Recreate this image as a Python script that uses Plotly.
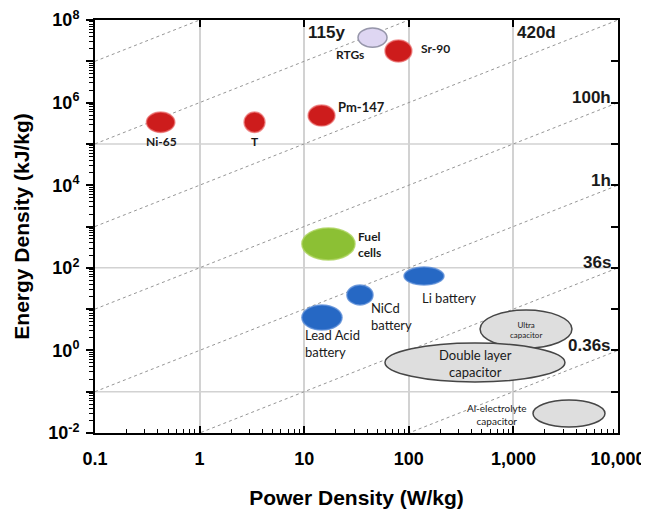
import math
import plotly.graph_objects as go

# ---------------- data ----------------
tech_names = ["Ni-65", "T", "Pm-147", "RTGs", "Sr-90", "Fuel cells",
              "Lead Acid battery", "NiCd battery", "Li battery",
              "Ultra capacitor", "Double layer capacitor", "Al-electrolyte capacitor"]
power_min = [0.31, 2.66, 10.9, 32.7, 59.2, 9.5, 9.5, 25.6, 90, 480, 59.2, 1540]
power_max = [0.58, 4.22, 19.7, 61.9, 107, 30.6, 23, 45.5, 217, 3630, 3110, 7510]
energy_min = [1.9e5, 1.9e5, 2.7e5, 2.2e7, 9.6e6, 155, 3.1, 12.6, 38.4, 1.14, 0.172, 0.014]
energy_max = [5.9e5, 5.9e5, 8.7e5, 6.4e7, 3.3e7, 920, 12.6, 38.4, 104, 9.5, 1.51, 0.063]

# constant discharge-time lines (E/P in axis units)
time_consts = [1e-4, 1e-2, 1, 1e2, 1e4, 1e6, 1e8]
time_labels = ["0.36s", "36s", "1h", "100h", "420d", "115y", ""]

x_ticks = [0.1, 1, 10, 100, 1000, 10000]
x_tick_text = ["0.1", "1", "10", "100", "1,000", "10,000"]
y_exponents = list(range(-2, 9))
h_grid = [1e-1, 1e2, 1e5]

# ---------------- styles ----------------
RED = dict(fill="rgb(205,28,28)", line="rgba(235,110,110,0.7)")
LAV = dict(fill="rgb(222,214,242)", line="rgb(150,150,170)")
GRN = dict(fill="rgb(140,192,52)", line="rgba(170,210,90,0.8)")
BLU = dict(fill="rgb(38,104,196)", line="rgba(90,140,215,0.8)")
GRY = dict(fill="rgb(222,222,222)", line="rgb(70,70,70)")
tech_style = [RED, RED, RED, LAV, RED, GRN, BLU, BLU, BLU, GRY, GRY, GRY]

# label positions (P, E), anchor, size, weight
label_specs = [
    ("Ni-65", 0.43, 1.17e5, "center", 12, "bold"),
    ("T", 3.39, 1.17e5, "center", 12, "bold"),
    ("Pm-147", 20.1, 7.8e5, "left", 13, "bold"),
    ("RTGs", 27.4, 1.5e7, "center", 12, "bold"),
    ("Sr-90", 125, 2.0e7, "left", 12, "bold"),
    ("Fuel<br>cells", 31.3, 3.77e2, "left", 12, "bold"),
    ("Lead Acid<br>battery", 9.75, 1.43, "left", 13, "normal"),
    ("NiCd<br>battery", 41.7, 6.8, "left", 13, "normal"),
    ("Li battery", 128, 18.6, "left", 13, "normal"),
    ("Ultra<br>capacitor", 1318, 3.1, "center", 8, "normal"),
    ("Double layer<br>capacitor", 430, 0.495, "center", 13, "normal"),
    ("Al-electrolyte<br>capacitor", 697, 0.0288, "center", 10, "normal"),
]


def minor_vals(lo_exp, hi_exp):
    out = []
    for e in range(lo_exp, hi_exp):
        for m in range(2, 10):
            out.append(m * 10 ** e)
    return out


fig = go.Figure()

# time lines
for k in time_consts:
    xs = [x_ticks[0], x_ticks[-1]]
    fig.add_trace(go.Scatter(x=xs, y=[k * v for v in xs], mode="lines",
                             line=dict(color="rgb(150,150,150)", width=1, dash="dot"),
                             hoverinfo="skip", showlegend=False))

# dummy trace for mirrored tick axes
fig.add_trace(go.Scatter(x=[1], y=[1], xaxis="x2", yaxis="y2", mode="markers",
                         marker=dict(opacity=0), hoverinfo="skip", showlegend=False))

shapes = []
for g in h_grid:
    shapes.append(dict(type="line", xref="paper", x0=0, x1=1, yref="y", y0=g, y1=g,
                       line=dict(color="rgb(210,210,210)", width=1.5), layer="below"))
for i, name in enumerate(tech_names):
    st = tech_style[i]
    shapes.append(dict(type="circle", xref="x", yref="y",
                       x0=power_min[i], x1=power_max[i], y0=energy_min[i], y1=energy_max[i],
                       fillcolor=st["fill"], line=dict(color=st["line"], width=1.5),
                       layer="above"))

annotations = []
for text, px, ey, anchor, size, wt in label_specs:
    annotations.append(dict(x=math.log10(px), y=math.log10(ey), xref="x", yref="y",
                            text=text, showarrow=False, xanchor=anchor, yanchor="middle",
                            align=anchor,
                            font=dict(family="Lato", size=size, color="#1a1a1a", weight=wt)))

# time labels
lab_font = dict(family="Liberation Sans", size=17, color="#1a1a1a", weight="bold")
for k, lab in zip(time_consts, time_labels):
    if not lab:
        continue
    e_right = k * x_ticks[-1]
    if e_right <= 10 ** y_exponents[-1] / 100:
        annotations.append(dict(x=0.99, xref="paper", y=math.log10(e_right), yref="y",
                                text=lab, showarrow=False, xanchor="right", yanchor="middle",
                                yshift=5, font=lab_font))
    else:
        p_top = 10 ** y_exponents[-1] / k
        annotations.append(dict(x=math.log10(p_top) - 1 + 0.02, xref="x", y=1, yref="paper",
                                text=lab, showarrow=False, xanchor="left", yanchor="top",
                                yshift=-1, font=lab_font))

tick_font = dict(family="Liberation Sans", size=18, color="black", weight="bold")
title_font = dict(family="Liberation Sans", size=21, color="black", weight="bold")

# page body adds an 8px offset; compensate in figure size / margins
fig.update_layout(
    width=641, height=501,
    margin=dict(l=87, r=31, t=12, b=76, autoexpand=False),
    paper_bgcolor="white", plot_bgcolor="white",
    showlegend=False,
    shapes=shapes,
    annotations=annotations,
    xaxis=dict(type="log", range=[-1, 4], tickvals=x_ticks, ticktext=x_tick_text,
               ticks="inside", ticklen=7, tickwidth=2, tickcolor="black",
               minor=dict(ticks="inside", ticklen=4, tickwidth=1, tickcolor="black",
                          tickvals=minor_vals(-1, 4), showgrid=False),
               showgrid=True, gridcolor="rgb(210,210,210)", gridwidth=1.5,
               showline=True, linecolor="black", linewidth=2, mirror=True,
               tickfont=tick_font, ticklabelstandoff=8, automargin=False,
               ticklabeloverflow="allow",
               title=dict(text="Power Density (W/kg)", font=title_font, standoff=24),
               zeroline=False),
    yaxis=dict(type="log", range=[-2, 8], tickvals=[10 ** e for e in y_exponents],
               ticktext=["10<sup>%d</sup>" % e if e % 2 == 0 else "" for e in y_exponents],
               ticks="outside", ticklen=7, tickwidth=2, tickcolor="black",
               minor=dict(ticks="outside", ticklen=4, tickwidth=1, tickcolor="black",
                          tickvals=minor_vals(-2, 8), showgrid=False),
               showgrid=False, showline=True, linecolor="black", linewidth=2, mirror=True,
               tickfont=tick_font, ticklabelstandoff=3, automargin=False,
               ticklabeloverflow="allow",
               title=dict(text="Energy Density (kJ/kg)", font=title_font, standoff=13),
               zeroline=False),
    xaxis2=dict(type="log", range=[-1, 4], overlaying="x", side="top",
                tickvals=x_ticks, ticks="inside", ticklen=7, tickwidth=2, tickcolor="black",
                showticklabels=False, showgrid=False, showline=False, zeroline=False,
                automargin=False),
    yaxis2=dict(type="log", range=[-2, 8], overlaying="y", side="right",
                tickvals=[10 ** e for e in y_exponents], ticks="inside", ticklen=7,
                tickwidth=2, tickcolor="black", automargin=False,
                showticklabels=False, showgrid=False, showline=False, zeroline=False),
)

fig.write_html("out.html")
